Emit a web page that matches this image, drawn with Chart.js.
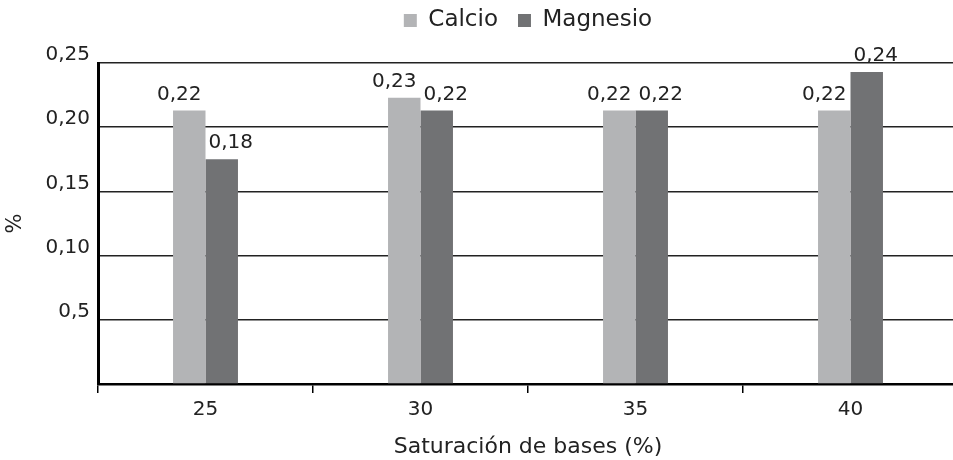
<!DOCTYPE html>
<html>
<head>
<meta charset="utf-8">
<script src="https://cdn.jsdelivr.net/npm/chart.js@4.4.0/dist/chart.umd.min.js"></script>
<style>
html, body { margin: 0; padding: 0; background: #fff; overflow: hidden; }
#wrap { width: 953px; height: 460px; overflow: hidden; }
</style>
</head>
<body>
<div id="wrap"><canvas id="myChart" width="958" height="460"></canvas></div>
<script>
const labels = ['25', '30', '35', '40'];
const calcio = [0.213, 0.223, 0.213, 0.213];
const magnesio = [0.175, 0.213, 0.213, 0.243];
const calcioText = ['0,22', '0,23', '0,22', '0,22'];
const magnesioText = ['0,18', '0,22', '0,22', '0,24'];
const yTickText = ['', '0,5', '0,10', '0,15', '0,20', '0,25'];

const FONT = "'DejaVu Sans', sans-serif";
Chart.defaults.font.family = FONT;
Chart.defaults.color = '#222';

// value labels above each bar, placed from the bar elements
const barLabels = {
    id: 'barLabels',
    afterDatasetsDraw(chart) {
        const ctx = chart.ctx;
        ctx.save();
        ctx.font = '20px ' + FONT;
        ctx.fillStyle = '#222';
        ctx.textAlign = 'center';
        ctx.textBaseline = 'alphabetic';
        chart.data.datasets.forEach((ds, i) => {
            chart.getDatasetMeta(i).data.forEach((bar, j) => {
                ctx.fillText(ds.valueText[j], bar.x + ds.labelShift, bar.y - 11);
            });
        });
        ctx.restore();
    }
};

// fixed legend height so the plot starts where the reference does,
// then pull the legend row up a little (wider item padding pushes it down)
const legendHeight = {
    id: 'legendHeight',
    beforeInit(chart) {
        const fit = chart.legend.fit;
        chart.legend.fit = function () {
            fit.call(this);
            this.height = 63;
        };
    },
    afterLayout(chart) {
        chart.legend.top -= 11;
        chart.legend.bottom -= 11;
    }
};

let dataChart = {
    labels: labels,
    datasets: [{
        label: 'Calcio',
        backgroundColor: '#b3b4b6',
        data: calcio,
        valueText: calcioText,
        labelShift: -10,
    },
        {
            label: 'Magnesio',
            backgroundColor: '#717274',
            data: magnesio,
            valueText: magnesioText,
            labelShift: 9,
        }]
};

const config = {
    type: 'bar',
    data: dataChart,
    options: {
        responsive: false,
        animation: false,
        devicePixelRatio: 1,
        layout: {padding: 0},
        datasets: {
            bar: {categoryPercentage: 0.302, barPercentage: 1}
        },
        plugins: {
            legend: {
                position: 'top',
                fullSize: false,
                labels: {
                    boxWidth: 13,
                    boxHeight: 13,
                    padding: 20,
                    font: {size: 23},
                    color: '#222'
                }
            },
            tooltip: {enabled: false}
        },
        scales: {
            x: {
                grid: {
                    display: true,
                    drawOnChartArea: false,
                    offset: true,
                    tickLength: 9,
                    color: '#000',
                    lineWidth: 1.5
                },
                border: {color: '#000', width: 2.5},
                ticks: {font: {size: 20}, color: '#222', padding: 5},
                title: {
                    display: true,
                    text: 'Saturación de bases (%)',
                    font: {size: 22},
                    color: '#222',
                    padding: {top: 0, bottom: 0}
                },
                afterFit(axis) { axis.height = 76; }
            },
            y: {
                min: 0,
                max: 0.25,
                grid: {color: '#222', lineWidth: 1.5, drawTicks: false},
                border: {color: '#000', width: 3},
                ticks: {
                    stepSize: 0.05,
                    font: {size: 20},
                    color: '#222',
                    padding: 8,
                    labelOffset: -8,
                    callback: (value, index) => yTickText[index]
                },
                title: {
                    display: true,
                    text: '%',
                    font: {size: 21},
                    color: '#222',
                    padding: {top: 3, bottom: 0}
                },
                afterFit(axis) { axis.width = 98; }
            }
        }
    },
    plugins: [barLabels, legendHeight]
};

const myChart = new Chart(
document.getElementById('myChart'),
config
);
</script>
</body>
</html>
